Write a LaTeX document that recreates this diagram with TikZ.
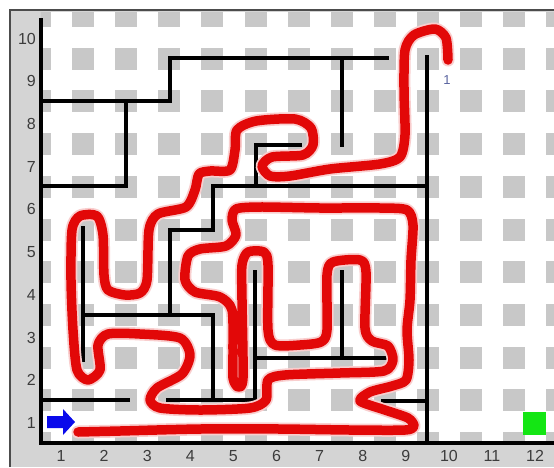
\documentclass[tikz,border=0pt]{standalone}
\usepackage{fontspec}
\setmainfont{Liberation Sans}
\definecolor{pathred}{RGB}{226,8,8}
\definecolor{sqgray}{RGB}{200,200,200}
\definecolor{framegray}{RGB}{212,212,212}
\definecolor{labgray}{RGB}{60,60,60}
\definecolor{arrowblue}{RGB}{10,10,235}
\definecolor{goalgreen}{RGB}{20,230,20}
\definecolor{smallblue}{RGB}{90,100,160}
\begin{document}
\begin{tikzpicture}[x=1pt,y=-1pt,
  wall/.style={line width=3.2pt, black, line cap=rect},
  redline/.style={line width=9.5pt, color=pathred, line cap=round, line join=round},
  halo/.style={line width=13pt, color=pathred!20, line cap=round, line join=round},
  axlab/.style={font=\fontsize{16}{16}\selectfont, text=labgray, inner sep=0pt}]
\useasboundingbox (0,0) rectangle (554,467);
\fill[white] (0,0) rectangle (554,467);
% frame
\fill[framegray] (10,10) rectangle (554,467);
\draw[line width=1.2pt, black!70] (10,467) -- (10,10) -- (554,10);
% grid area
\fill[white] (41,12) rectangle (554,443);
\begin{scope}
  \clip (41,12) rectangle (554,443);
  \foreach \k in {0,...,13}{
    \foreach \j in {0,...,10}{
      \fill[sqgray] ({40+\k*43.1-11},{443-\j*42.7-11}) rectangle ++(22,22);
    }
  }
\end{scope}
% walls
\draw[wall] (41,20) -- (41,443) -- (554,443);
\draw[wall] (427,57) -- (427,443);
\draw[wall] (41,101) -- (170,101) -- (170,58) -- (387,58);
\draw[wall] (126,101) -- (126,186) -- (41,186);
\draw[wall] (342,58) -- (342,145);
\draw[wall] (300,145) -- (256,145) -- (256,186);
\draw[wall] (213,186) -- (427,186);
\draw[wall] (213,186) -- (213,230) -- (170,230) -- (170,315);
\draw[wall] (83,228) -- (83,360);
\draw[wall] (83,315) -- (213,315) -- (213,400);
\draw[wall] (41,400) -- (128,400);
\draw[wall] (168,400) -- (255,400) -- (255,272);
\draw[wall] (255,358) -- (387,358);
\draw[wall] (342,272) -- (342,358);
\draw[wall] (383,401) -- (427,401);
% red path
\def\redpts{(78,432) (120,431) (200,429) (280,429) (350,430) (405,430) (414,426) (408,418) (385,410) (360,401) (370,392) (392,386) (406,380) (409,360) (407,330) (410,300) (411,260) (413,225) (407,210) (380,208) (320,208) (260,207) (236,209) (232,220) (236,235) (226,246) (200,249) (188,256) (185,280) (195,292) (220,297) (232,310) (233,350) (233,378) (238,387) (243,378) (242,300) (242,265) (248,252) (264,252) (268,265) (268,330) (275,345) (300,345) (321,342) (327,330) (327,275) (333,262) (360,260) (366,272) (365,328) (372,341) (388,346) (393,360) (384,371) (340,373) (285,375) (268,380) (266,400) (250,408) (200,410) (160,408) (150,400) (157,388) (182,374) (190,355) (180,338) (140,334) (108,334) (98,345) (100,370) (88,380) (77,370) (73,330) (71,280) (72,230) (80,216) (97,216) (103,235) (104,275) (108,290) (125,295) (140,293) (147,280) (149,230) (158,214) (186,207) (195,190) (199,174) (210,171) (230,170) (235,150) (237,130) (256,121) (295,119) (311,128) (313,145) (303,155) (272,157) (262,166) (270,176) (290,176) (330,169) (380,164) (400,157) (405,135) (404,90) (405,50) (414,35) (435,29) (446,38) (448,60)}
\draw[halo] plot[smooth, tension=0.45] coordinates {\redpts};
\draw[redline] plot[smooth, tension=0.45] coordinates {\redpts};
% start arrow and goal
\fill[arrowblue] (47,416) -- (63,416) -- (63,409) -- (75,422) -- (63,435) -- (63,428) -- (47,428) -- cycle;
\fill[goalgreen] (523,412) rectangle (546,435);
\node[font=\fontsize{13}{13}\selectfont, text=smallblue, inner sep=0pt] (one) at (447,80) {1};
% axis labels
\foreach \k in {1,...,10}{
  \node[axlab, anchor=east] (y\k) at (36,{423-(\k-1)*42.72}) {\k};
}
\foreach \k in {1,...,12}{
  \node[axlab] (x\k) at ({61+(\k-1)*43.1},456) {\k};
}
\end{tikzpicture}
\end{document}
